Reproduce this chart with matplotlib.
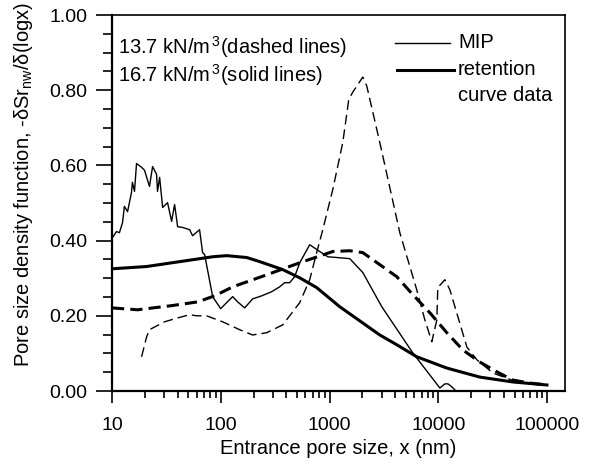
import matplotlib
matplotlib.use("Agg")
import matplotlib.pyplot as plt
from matplotlib.ticker import FixedLocator, NullFormatter, FormatStrFormatter, LogLocator

plt.rcParams['font.family'] = ['Liberation Sans', 'DejaVu Sans']
plt.rcParams['mathtext.fontset'] = 'custom'
plt.rcParams['mathtext.rm'] = 'Liberation Sans'
plt.rcParams['mathtext.it'] = 'Liberation Sans'

# --- 16.7 kN/m3 MIP (thin solid) ---
mip_167_x = [10, 10.1, 11.0, 11.7, 12.5, 13.0, 13.9, 15.1, 15.4, 16.1, 16.8, 18.7, 19.9, 22.1, 23.6,
             25.7, 26.2, 27.4, 29.2, 32.4, 35.3, 37.6, 40.1, 44.6, 51.7, 55.0, 63.8, 68.0, 71, 84.1,
             99.7, 120.5, 128.5, 142.8, 165.7, 196, 237, 293, 347, 386, 429, 477, 531, 656, 811,
             961, 1162, 1531, 2018, 3016, 5821, 10300, 11460, 12220, 13280, 14160]
mip_167_y = [0.405, 0.408, 0.424, 0.421, 0.448, 0.491, 0.477, 0.528, 0.555, 0.531, 0.605, 0.595, 0.587,
             0.544, 0.597, 0.576, 0.531, 0.568, 0.488, 0.501, 0.451, 0.496, 0.437, 0.435, 0.429,
             0.413, 0.429, 0.368, 0.363, 0.251, 0.219, 0.243, 0.251, 0.237, 0.221, 0.245, 0.253,
             0.264, 0.277, 0.288, 0.288, 0.304, 0.341, 0.389, 0.371, 0.357, 0.355, 0.352, 0.315,
             0.224, 0.101, 0.008, 0.019, 0.019, 0.011, 0.003]

# --- 16.7 kN/m3 retention curve (thick solid) ---
ret_167_x = [10, 20.7, 41.8, 84, 113, 173, 228, 370, 531, 760, 1240, 2890, 4140, 6320, 11940,
             24000, 48300, 99300]
ret_167_y = [0.325, 0.331, 0.344, 0.357, 0.360, 0.355, 0.344, 0.323, 0.301, 0.275, 0.224, 0.149,
             0.123, 0.091, 0.061, 0.037, 0.024, 0.016]

# --- 13.7 kN/m3 retention curve (thick dashed) ---
ret_137_x = [10, 17.2, 35.3, 61.2, 87.7, 128.5, 264, 531, 1069, 1531, 2018, 2890, 4140, 5821,
             8340, 11940, 16790, 24000, 34400, 48300, 69200, 99300]
ret_137_y = [0.221, 0.216, 0.227, 0.237, 0.253, 0.277, 0.309, 0.341, 0.371, 0.373, 0.368, 0.336,
             0.304, 0.256, 0.208, 0.155, 0.109, 0.077, 0.051, 0.029, 0.021, 0.016]

# --- 13.7 kN/m3 MIP (thin dashed) ---
mip_137_x = [18.7, 20.8, 22.1, 25.7, 30.4, 37.6, 51.7, 59.8, 74, 104, 149, 196, 264, 371, 531,
             656, 760, 865, 1069, 1321, 1500, 1633, 2018, 2195, 2890, 4415, 6320, 7500, 8690,
             9660, 9860, 11460, 12740, 15100, 18240, 22550, 31600, 52600, 91200]
mip_137_y = [0.091, 0.144, 0.163, 0.173, 0.184, 0.192, 0.203, 0.200, 0.200, 0.184, 0.163, 0.149,
             0.155, 0.176, 0.235, 0.296, 0.368, 0.429, 0.536, 0.661, 0.776, 0.795, 0.835, 0.811,
             0.661, 0.421, 0.269, 0.189, 0.131, 0.189, 0.275, 0.296, 0.269, 0.197, 0.117, 0.083,
             0.048, 0.024, 0.016]

x_ticks = [10, 100, 1000, 10000, 100000]
x_ticklabels = ["10", "100", "1000", "10000", "100000"]
y_ticks = [0.0, 0.2, 0.4, 0.6, 0.8, 1.0]

fig = plt.figure(figsize=(5.89, 4.68), dpi=100)
ax = fig.add_axes([112 / 589, 1 - 391 / 468, (565 - 112) / 589, (391 - 15) / 468])

ax.plot(mip_167_x, mip_167_y, color='black', lw=1.0)
ax.plot(ret_167_x, ret_167_y, color='black', lw=2.2)
ax.plot(ret_137_x, ret_137_y, color='black', lw=2.2, dashes=(4.0, 2.0))
ax.plot(mip_137_x, mip_137_y, color='black', lw=1.0, dashes=(7.0, 3.6))

ax.set_xscale('log')
ax.set_xlim(10, 145500)
ax.set_ylim(0, 1.0)

ax.xaxis.set_major_locator(FixedLocator(x_ticks))
ax.set_xticklabels(x_ticklabels)
ax.xaxis.set_minor_locator(LogLocator(base=10, subs=range(2, 10)))
ax.xaxis.set_minor_formatter(NullFormatter())
ax.yaxis.set_major_locator(FixedLocator(y_ticks))
ax.yaxis.set_minor_locator(FixedLocator([i * 0.05 for i in range(21)]))
ax.yaxis.set_major_formatter(FormatStrFormatter('%.2f'))

ax.tick_params(axis='y', which='major', direction='out', length=11.5, width=1.2, pad=6, labelsize=14)
ax.tick_params(axis='y', which='minor', direction='out', length=6.5, width=1.2)
ax.tick_params(axis='x', which='major', direction='out', length=8.6, width=1.2, pad=10, labelsize=14)
ax.tick_params(axis='x', which='minor', direction='out', length=5, width=1.2)

for s in ['left', 'bottom']:
    ax.spines[s].set_linewidth(1.6)
for s in ['top', 'right']:
    ax.spines[s].set_linewidth(1.2)

ax.set_xlabel("Entrance pore size, x (nm)", fontsize=14.5)
ax.set_ylabel("Pore size density function, -δSr$_{\\rm nw}$/δ(logx)", fontsize=14.5)
ax.yaxis.set_label_coords(-0.17, 0.55)

ax.text(0.013, 0.915, "13.7 kN/m$^{\\,3}$(dashed lines)", transform=ax.transAxes,
        fontsize=14.5, va='center', ha='left')
ax.text(0.013, 0.840, "16.7 kN/m$^{\\,3}$(solid lines)", transform=ax.transAxes,
        fontsize=14.5, va='center', ha='left')

ax.plot([0.625, 0.746], [0.926, 0.926], transform=ax.transAxes, color='black', lw=1.0)
ax.plot([0.630, 0.756], [0.854, 0.854], transform=ax.transAxes, color='black', lw=2.2)
ax.text(0.764, 0.926, "MIP", transform=ax.transAxes, fontsize=14.5, va='center', ha='left')
ax.text(0.764, 0.854, "retention", transform=ax.transAxes, fontsize=14.5, va='center', ha='left')
ax.text(0.764, 0.787, "curve data", transform=ax.transAxes, fontsize=14.5, va='center', ha='left')

fig.savefig("out.png", dpi=100)
